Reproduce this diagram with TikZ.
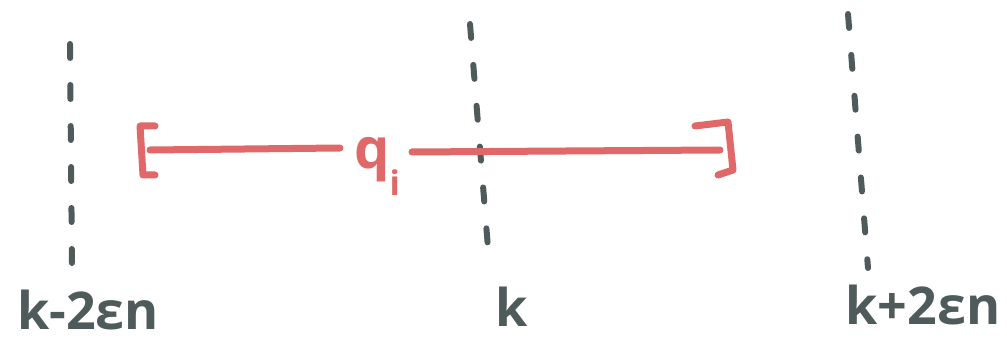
\documentclass[tikz,border=0pt]{standalone}
\usepackage{fontspec}
\setmainfont{Open Sans}
\definecolor{ink}{HTML}{4F5B5A}
\definecolor{redink}{HTML}{E06868}
\begin{document}
\begin{tikzpicture}[x=1pt,y=-1pt,
  guide/.style={draw=ink,line width=6pt,line cap=round,dash pattern=on 14pt off 27pt},
  redline/.style={draw=redink,line width=7pt,line cap=round,line join=round},
  lab/.style={text=ink,font=\bfseries\fontsize{52}{52}\selectfont,inner sep=0pt},
  qlab/.style={text=redink,font=\bfseries\fontsize{56}{56}\selectfont,inner sep=0pt}]
\useasboundingbox (0,0) rectangle (1007,342);
% guide lines
\coordinate (l1) at (70,44);  \coordinate (l2) at (72,268);
\coordinate (m1) at (470,24); \coordinate (m2) at (488,248);
\coordinate (r1) at (848,14); \coordinate (r2) at (868,268);
\draw[guide] (l1) -- (l2);
\draw[guide] (m1) -- (m2);
\draw[guide] (r1) -- (r2);
% labels
\node[lab] (kl) at (88,310) {k-2εn};
\node[lab] (km) at (512,307) {k};
\node[lab] (kr) at (923,305) {k+2εn};
% red interval
\node[qlab,anchor=base] (q) at (377,168) {q\raisebox{-0.9ex}{\fontsize{34}{34}\selectfont i}};
\coordinate (b1) at (155,126); \coordinate (b2) at (140,126);
\coordinate (b3) at (143,175); \coordinate (b4) at (155,175);
\draw[redline] (b1) -- (b2) -- (b3) -- (b4);
\coordinate (s1) at (150,150); \coordinate (s2) at (340,148);
\draw[redline] (s1) -- (s2);
\coordinate (t1) at (412,152); \coordinate (t2) at (720,150);
\draw[redline] (t1) -- (t2);
\coordinate (c1) at (695,126); \coordinate (c2) at (728,122);
\coordinate (c3) at (733,170); \coordinate (c4) at (718,175);
\draw[redline] (c1) -- (c2) -- (c3) -- (c4);
\end{tikzpicture}
\end{document}
